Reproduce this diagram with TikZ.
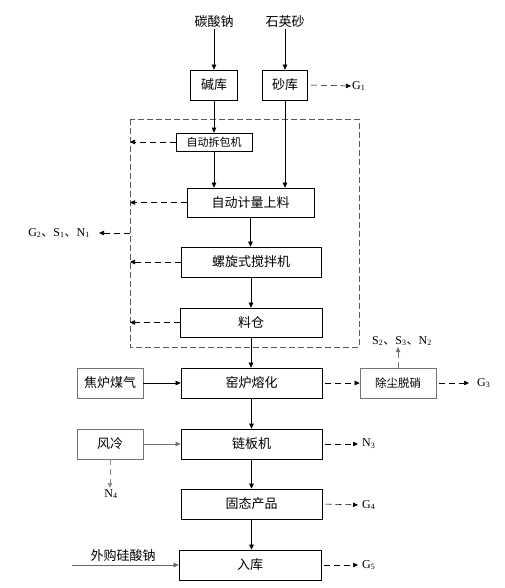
\documentclass[tikz,border=0pt]{standalone}
\usepackage{fontspec}
\setmainfont{Liberation Serif}
\newfontfamily\cjk{Noto Sans CJK SC}
\usetikzlibrary{arrows.meta, positioning, calc}
\newcommand{\dun}{{\cjk 、}}

\begin{document}
\begin{tikzpicture}[x=1pt, y=-1pt,
    procbox/.style={draw, line width=0.7pt, minimum height=30pt, inner sep=0pt, font=\fontsize{13}{15}\cjk},
    auxbox/.style={procbox, draw=black!55},
    arr/.style={-{Triangle[length=5pt, width=4.5pt]}, line width=0.6pt},
    dasharr/.style={arr, dash pattern=on 6pt off 4pt},
    emis/.style={font=\fontsize{12}{14}\selectfont, inner sep=1pt},
    raw/.style={font=\fontsize{13}{15}\cjk, inner sep=1pt}
]
    \useasboundingbox (0,0) rectangle (505,588);

    % Raw materials
    \node[raw] (tsn) at (214, 22) {碳酸钠};
    \node[raw] (sys) at (285, 22) {石英砂};
    \node[procbox, minimum width=47pt] (jianku) at (214, 85) {碱库};
    \node[procbox, minimum width=45pt] (shaku)  at (285, 85) {砂库};
    \node[emis, anchor=west] (g1) at (351, 86) {G\textsubscript{1}};
    \draw[arr] (tsn) -- (jianku.north);
    \draw[arr] (sys) -- (shaku.north);
    \draw[dasharr, shorten <=3pt] (shaku.east) -- (g1.west);

    % Batching section (dashed frame)
    \coordinate (fNW) at (130, 119);
    \coordinate (fSE) at (359, 347);
    \draw[black!65, line width=0.7pt, dash pattern=on 6pt off 3pt] (fNW) rectangle (fSE);

    \node[procbox, minimum width=76pt, minimum height=18pt, font=\fontsize{11}{13}\cjk] (chaibao) at (214, 142) {自动拆包机};
    \node[procbox, minimum width=127pt, minimum height=29pt] (jiliang)  at (250.5, 202.5) {自动计量上料};
    \node[procbox, minimum width=140pt] (luoxuan)  at (251, 262) {螺旋式搅拌机};
    \node[procbox, minimum width=142pt, minimum height=29pt] (liaocang) at (251, 322.5) {料仓};

    \draw[arr] (jianku.south) -- (chaibao.north);
    \draw[arr] (chaibao.south) -- (chaibao.south |- jiliang.north);
    \draw[arr] (shaku.south) -- (shaku.south |- jiliang.north);
    \draw[arr] (jiliang.south) -- (jiliang.south |- luoxuan.north);
    \draw[arr] (luoxuan.south) -- (luoxuan.south |- liaocang.north);

    \draw[dasharr] (chaibao.west)  -- (chaibao.west -| fNW);
    \draw[dasharr] (jiliang.west)  -- (jiliang.west -| fNW);
    \draw[dasharr] (luoxuan.west)  -- (luoxuan.west -| fNW);
    \draw[dasharr] (liaocang.west) -- (liaocang.west -| fNW);

    \coordinate (fmid) at (130, 233);
    \node[emis, anchor=east] (g2) at (91, 233) {G\textsubscript{2}\dun S\textsubscript{1}\dun N\textsubscript{1}};
    \draw[dasharr, shorten >=8pt] (fmid) -- (g2.east);

    % Melting
    \node[auxbox, minimum width=66pt] (jiaolu) at (110, 383) {焦炉煤气};
    \node[procbox, minimum width=141pt] (yaolu) at (251.5, 383) {窑炉熔化};
    \node[auxbox, minimum width=76pt, font=\fontsize{11.5}{13}\cjk] (chuchen) at (398, 383) {除尘脱硝};
    \node[emis] (s2) at (402, 341) {S\textsubscript{2}\dun S\textsubscript{3}\dun N\textsubscript{2}};
    \node[emis, anchor=west] (g3) at (476, 383) {G\textsubscript{3}};

    \draw[arr] (liaocang.south) -- (liaocang.south |- yaolu.north);
    \draw[arr] (jiaolu.east) -- (yaolu.west);
    \draw[dasharr, shorten <=3pt] (yaolu.east) -- (chuchen.west);
    \draw[dasharr, black!55] (chuchen.north) -- (chuchen.north |- s2.south);
    \draw[dasharr, shorten <=3pt, shorten >=7pt] (chuchen.east) -- (g3.west);

    % Cooling
    \node[auxbox, minimum width=66pt] (fengleng) at (110, 444) {风冷};
    \node[procbox, minimum width=141pt] (lianban) at (251.5, 444) {链板机};
    \node[emis, anchor=west] (n3) at (361, 444) {N\textsubscript{3}};
    \node[emis] (n4) at (111, 494) {N\textsubscript{4}};

    \draw[arr] (yaolu.south) -- (yaolu.south |- lianban.north);
    \draw[arr, black!55] (fengleng.east) -- (lianban.west);
    \draw[dasharr, shorten <=3pt, shorten >=3pt] (lianban.east) -- (n3.west);
    \draw[dasharr, black!45] (fengleng.south) -- (fengleng.south |- n4.north);

    % Product
    \node[procbox, minimum width=141pt] (gutai) at (251.5, 504) {固态产品};
    \node[procbox, minimum width=142pt] (ruku)  at (250, 565) {入库};
    \node[emis, anchor=west] (g4) at (361, 505) {G\textsubscript{4}};
    \node[emis, anchor=west] (g5) at (361, 565) {G\textsubscript{5}};
    \coordinate (wgin) at (72, 565);
    \node[raw] (waigou) at (123, 556) {外购硅酸钠};

    \draw[arr] (lianban.south) -- (lianban.south |- gutai.north);
    \draw[arr] (gutai.south) -- (gutai.south |- ruku.north);
    \draw[dasharr, shorten <=3pt, shorten >=3pt] (gutai.east) -- (g4.west);
    \draw[dasharr, shorten <=3pt, shorten >=3pt] (ruku.east) -- (g5.west);
    \draw[arr, black!60] (wgin) -- (ruku.west);
\end{tikzpicture}
\end{document}
